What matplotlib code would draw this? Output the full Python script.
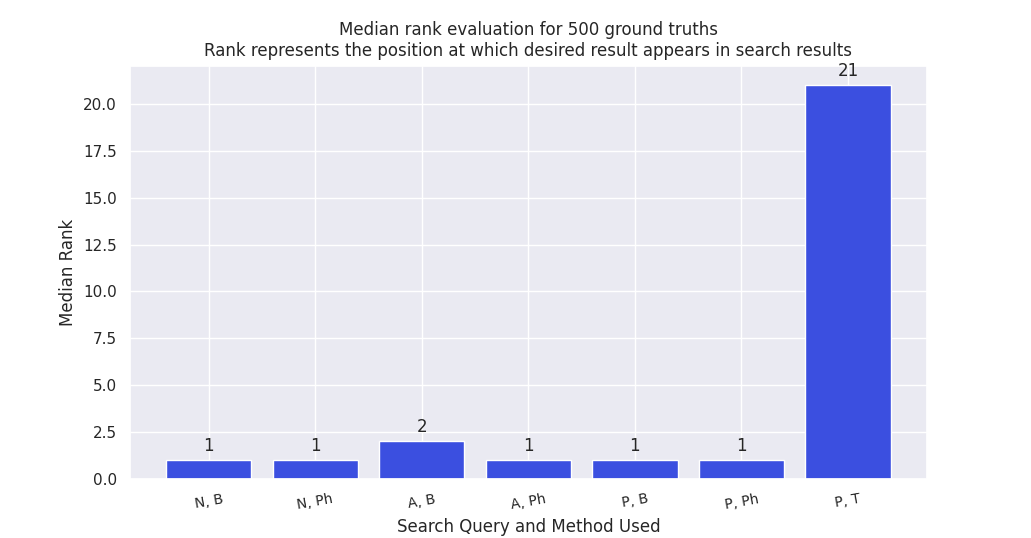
import matplotlib
matplotlib.use("Agg")
import matplotlib.pyplot as plt
import seaborn as sns

sns.set_theme(style="darkgrid")

methods = ["N, B", "N, Ph", "A, B", "A, Ph", "P, B", "P, Ph", "P, T"]
median_rank = [1, 1, 2, 1, 1, 1, 21]

fig = plt.figure(figsize=(10.31, 5.38), dpi=100)
ax = fig.add_axes([0.126, 0.110, 0.773, 0.768])

bars = ax.bar(methods, median_rank, color="#3b4fe0")
ax.bar_label(bars, padding=4, fontsize=12)

ax.set_title("Median rank evaluation for 500 ground truths\n"
             "Rank represents the position at which desired result appears in search results",
             fontsize=12, pad=7)
ax.set_xlabel("Search Query and Method Used", fontsize=12)
ax.set_ylabel("Median Rank", fontsize=12)
plt.xticks(rotation=10, fontsize=10)

fig.savefig("out.png")
